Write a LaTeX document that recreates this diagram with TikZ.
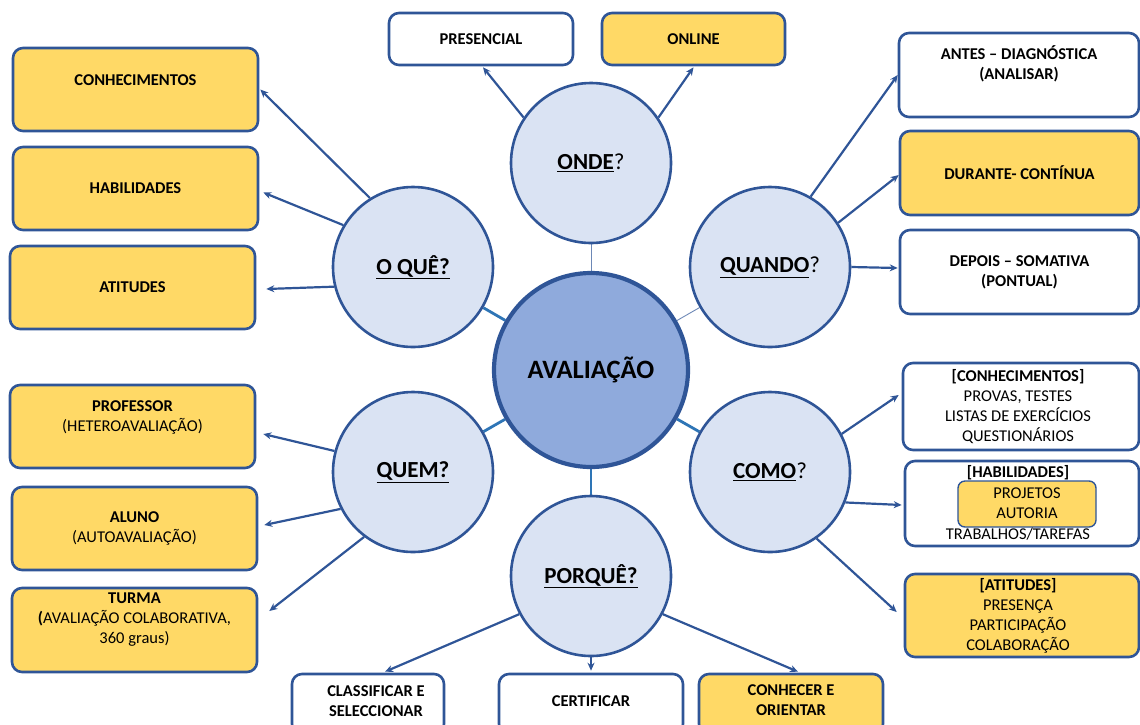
\documentclass[tikz,border=0pt]{standalone}
\usepackage{fontspec}
\setmainfont{Carlito}
\usetikzlibrary{arrows.meta,calc,backgrounds}
\definecolor{bord}{HTML}{2F5597}
\definecolor{yel}{HTML}{FFD966}
\definecolor{cfill}{HTML}{DAE3F3}
\definecolor{afill}{HTML}{8FAADC}
\definecolor{linkc}{HTML}{2E75B6}
\begin{document}
\begin{tikzpicture}[x=1pt,y=-1pt,
 box/.style={draw=bord, line width=2.6pt, rounded corners=10pt, fill=white, inner sep=0pt},
 ybox/.style={box, fill=yel},
 circ/.style={circle, draw=bord, line width=2.6pt, fill=cfill, minimum size=160pt, inner sep=0pt, font=\fontsize{23}{27}\selectfont},
 txt/.style={font=\fontsize{16.5}{20}\selectfont, align=center, inner sep=0pt, text=black},
 arr/.style={draw=bord, line width=2.2pt, -{Stealth[length=8pt,width=7pt]}},
 link/.style={draw=linkc, line width=2.8pt},
 thinlink/.style={draw=bord!70, line width=0.9pt}
]
\useasboundingbox (0,0) rectangle (1140,724);
\clip (0,0) rectangle (1140,724);

% circles
\node[circle, draw=bord, line width=4.2pt, fill=afill, minimum size=194pt, inner sep=0pt, font=\fontsize{26.5}{30}\selectfont] (aval) at (591,370) {\textbf{AVALIAÇÃO}};
\node[circ] (onde) at (591,163) {\underline{\textbf{ONDE}}?};
\node[circ] (oque) at (413,267) {\underline{\textbf{O QUÊ?}}};
\node[circ] (quando) at (770,267) {\underline{\textbf{QUANDO}}?};
\node[circ] (quem) at (413,472) {\underline{\textbf{QUEM?}}};
\node[circ] (como) at (770,472) {\underline{\textbf{COMO}}?};
\node[circ] (porque) at (591,576) {\underline{\textbf{PORQUÊ?}}};

\begin{scope}[on background layer]
\draw[thinlink] (aval) -- (onde);
\draw[thinlink] (aval) -- (quando);
\draw[link] (aval) -- (oque);
\draw[link] (aval) -- (quem);
\draw[link] (aval) -- (como);
\draw[link] (aval) -- (porque);
\end{scope}

% top boxes
\node[box, minimum width=184pt, minimum height=52pt] (pres) at (481,39) {};
\node[txt] (prest) at (481,39) {\textbf{PRESENCIAL}};
\node[ybox, minimum width=183pt, minimum height=52pt] (onl) at (693.5,39) {};
\node[txt] (onlt) at (693.5,39) {\textbf{ONLINE}};

% left boxes
\node[ybox, minimum width=245pt, minimum height=83pt] (conh) at (135.5,89.5) {};
\node[txt] (conht) at (135.5,80) {\textbf{CONHECIMENTOS}};
\node[ybox, minimum width=245pt, minimum height=83pt] (hab) at (135.5,188.5) {};
\node[txt] (habt) at (135.5,188) {\textbf{HABILIDADES}};
\node[ybox, minimum width=245pt, minimum height=83pt] (att) at (132.5,287.5) {};
\node[txt] (attt) at (132.5,287) {\textbf{ATITUDES}};

\node[ybox, minimum width=245pt, minimum height=83pt] (prof) at (132.5,426.5) {};
\node[txt] (proft) at (132.5,417) {\textbf{PROFESSOR}\\(HETEROAVALIAÇÃO)};
\node[ybox, minimum width=245pt, minimum height=83pt] (aluno) at (134.5,528.5) {};
\node[txt] (alunot) at (134.5,528) {\textbf{ALUNO}\\(AUTOAVALIAÇÃO)};
\node[ybox, minimum width=245pt, minimum height=84pt] (turma) at (134.5,630) {};
\node[txt] (turmat) at (134.5,620) {\textbf{TURMA}\\\textbf{(}AVALIAÇÃO COLABORATIVA,\\360 graus)};

% right boxes
\node[box, minimum width=240pt, minimum height=84pt] (antes) at (1019,75) {};
\node[txt] (antest) at (1019,64) {\textbf{ANTES – DIAGNÓSTICA}\\\textbf{(ANALISAR)}};
\node[ybox, minimum width=239pt, minimum height=84pt] (dur) at (1019.5,173) {};
\node[txt] (durt) at (1019.5,173) {\textbf{DURANTE- CONTÍNUA}};
\node[box, minimum width=239pt, minimum height=84pt] (dep) at (1019.5,272) {};
\node[txt] (dept) at (1019.5,272) {\textbf{DEPOIS – SOMATIVA}\\\textbf{(PONTUAL)}};

\node[box, minimum width=236pt, minimum height=87pt] (conh2) at (1021,406.5) {};
\node[txt] (conh2t) at (1018,407) {\textbf{[CONHECIMENTOS]}\\PROVAS, TESTES\\LISTAS DE EXERCÍCIOS\\QUESTIONÁRIOS};
\node[box, minimum width=234pt, minimum height=85pt] (hab2) at (1022,503.5) {};
\node[txt] (hab2a) at (1018,473) {\textbf{[HABILIDADES]}};
\node[ybox, line width=1.4pt, rounded corners=7pt, minimum width=138pt, minimum height=46pt] (inner) at (1027,504) {};
\node[txt] (innert) at (1027,503.5) {PROJETOS\\AUTORIA};
\node[txt] (hab2b) at (1018,534) {TRABALHOS/TAREFAS};
\node[ybox, minimum width=234pt, minimum height=83pt] (att2) at (1022,615.5) {};
\node[txt] (att2t) at (1018,615.5) {\textbf{[ATITUDES]}\\PRESENÇA\\PARTICIPAÇÃO\\COLABORAÇÃO};

% bottom boxes
\node[box, minimum width=152pt, minimum height=60pt] (class) at (368,704) {};
\node[txt] (classt) at (376,701) {\textbf{CLASSIFICAR E}\\\textbf{SELECCIONAR}};
\node[box, minimum width=184pt, minimum height=60pt] (cert) at (591,704) {};
\node[txt] (certt) at (591,701) {\textbf{CERTIFICAR}};
\node[ybox, minimum width=184pt, minimum height=60pt] (conhec) at (791,704) {};
\node[txt] (conhect) at (791,700) {\textbf{CONHECER E}\\\textbf{ORIENTAR}};

% arrows
\draw[arr] (onde.146) -- ($(pres.south)+(2,1)$);
\draw[arr] (onde.34) -- ($(onl.south)+(0,1)$);
\draw[arr] (oque.122) -- ($(conh.east)+(1,0)$);
\draw[arr] (oque.149) -- ($(hab.east)+(4,4)$);
\draw[arr] (oque.194) -- ($(att.east)+(10,1.5)$);
\draw[arr] (quando.60) -- (antes.west);
\draw[arr] (quando.33) -- ($(dur.west)+(0,2)$);
\draw[arr] (quando.0) -- ($(dep.west)+(-1,-4)$);
\draw[arr] (quem.165) -- ($(prof.east)+(7,7.5)$);
\draw[arr] (quem.207) -- ($(aluno.east)+(6,-3.5)$);
\draw[arr] (quem.233) -- ($(turma.east)+(11,-19)$);
\draw[arr] (como.28) -- ($(conh2.west)+(-3,-11.5)$);
\draw[arr] (como.-22) -- ($(hab2.west)+(-2,1.5)$);
\draw[arr] (como.-55) -- ($(att2.west)+(-7,-3.5)$);
\draw[arr] (porque.208) -- ($(class.north)+(17,-1)$);
\draw[arr] (porque.270) -- ($(cert.north)+(0,-2)$);
\draw[arr] (porque.-28) -- ($(conhec.north)+(7,-1)$);
\end{tikzpicture}
\end{document}
